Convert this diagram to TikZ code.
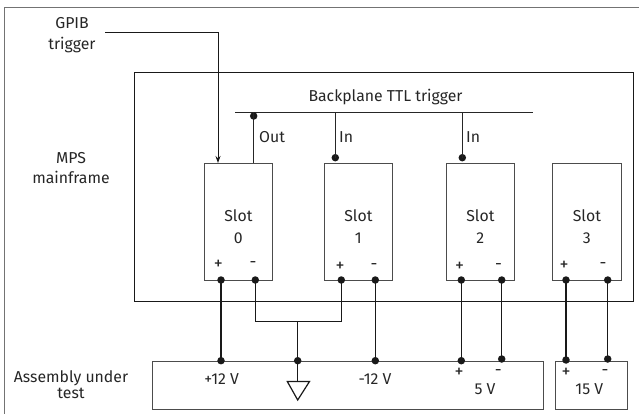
\documentclass[tikz,border=0pt]{standalone}
\usepackage{fontspec}
\setmainfont{Fira Sans}
\usetikzlibrary{arrows.meta}
\begin{document}
\begin{tikzpicture}[x=1pt,y=-1pt,
  lbl/.style={font=\fontsize{15.8}{18}\selectfont, inner sep=0pt, text=black!85},
  pm/.style={font=\fontsize{18}{18}\selectfont, inner sep=0pt, text=black!85},
  mn/.style={font=\fontsize{17}{18}\selectfont, inner sep=0pt, text=black!85},
  slotbox/.style={draw=black!70, line width=0.8pt, minimum width=68pt, minimum height=117pt, inner sep=0pt, anchor=north west},
  wire/.style={draw=black!90, line width=1.4pt},
  thin/.style={draw=black!85, line width=1pt},
  dot/.style={circle, fill=black!90, inner sep=0pt, minimum size=7.5pt},
  abox/.style={draw=black!70, line width=0.9pt, inner sep=0pt, anchor=north west}
]
\useasboundingbox (0,0) rectangle (639,414);
% outer frame (only top and left visible)
\draw[black!55, line width=0.8pt] (4.5,414) -- (4.5,7) -- (639,7);

% mainframe
\node[draw=black!90, line width=1.4pt, anchor=north west, minimum width=498.7pt, minimum height=228.7pt, inner sep=0pt] (mf) at (134,72) {};

% slots
\node[slotbox] (s0) at (204,163) {};
\node[slotbox] (s1) at (324,163) {};
\node[slotbox] (s2) at (446,163) {};
\node[slotbox, minimum width=69pt] (s3) at (552,163) {};

\foreach \s/\d in {s0/0,s1/1,s2/2,s3/3}{
  \node[lbl, align=center, font=\fontsize{15.8}{22}\selectfont] at ([yshift=-64pt]\s.north) {Slot\\\d};
}

% terminals
\coordinate (p0) at (221,280); \coordinate (m0) at (255.3,280);
\coordinate (p1) at (341.3,280); \coordinate (m1) at (375.3,280);
\coordinate (p2) at (461.3,280); \coordinate (m2) at (501.7,280);
\coordinate (p3) at (566,280); \coordinate (m3) at (607.7,280);

\node[pm] at (218.3,265) {+}; \node[mn] at (253,265) {-};
\node[pm] at (340,267) {+}; \node[mn] at (374,267) {-};
\node[pm] at (459.5,267) {+}; \node[mn] at (498.5,267) {-};
\node[pm] at (564,266) {+}; \node[mn] at (603,266) {-};

% backplane
\coordinate (bpL) at (235,112.3);
\coordinate (bpR) at (532.7,112.3);
\draw[thin] (bpL) -- (bpR);
\node[lbl] (bplbl) at (385.5,97) {Backplane TTL trigger};

\node[dot] (outdot) at (253.7,116) {};
\draw[thin] (253.7,112.3) -- (253.7,112.3 |- s0.north);
\node[lbl, anchor=west] at (259,137) {Out};

\node[dot] (in1) at (335.3,157.7) {};
\draw[thin] (in1.center) -- (in1.center |- bpL);
\node[lbl, anchor=west] at (339,137) {In};
\node[dot] (in2) at (462.3,157.7) {};
\draw[thin] (in2.center) -- (in2.center |- bpL);
\node[lbl, anchor=west] at (466,137) {In};

% GPIB
\node[lbl, align=center, font=\fontsize{15.8}{20.5}\selectfont] (gpib) at (72,35) {GPIB\\trigger};
\coordinate (gstart) at (105,32.7);
\draw[black!90, line width=0.9pt, -{Stealth[length=7pt,width=5pt]}] (gstart) -- (218,32.7) -- (218,163);

\node[lbl, align=center, font=\fontsize{15.8}{20.5}\selectfont] (mps) at (71,168) {MPS\\mainframe};

% assembly boxes
\node[abox, minimum width=391pt, minimum height=48.3pt] (aut) at (152.3,360.7) {};
\node[abox, minimum width=72.3pt, minimum height=48.3pt] (aut2) at (555,360.7) {};
\node[lbl, align=center, font=\fontsize{15.8}{16}\selectfont] (autl) at (71,384.5) {Assembly under\\test};

% bottom coordinates
\coordinate (q0) at (221,360.7);
\coordinate (g) at (297.7,360.7);
\coordinate (q1) at (375.3,360.7);
\coordinate (q2p) at (461.3,360.7);
\coordinate (q2m) at (501.7,359);
\coordinate (q3p) at (566,360);
\coordinate (q3m) at (607.7,359);
\coordinate (bus) at (297.7,321.7);

\draw[wire] (p0) -- (q0);
\draw[wire] (m0) |- (bus) -| (p1);
\draw[wire] (bus) -- (g);
\draw[wire] (m1) -- (q1);
\draw[wire] (p2) -- (q2p);
\draw[wire] (m2) -- (q2m);
\draw[wire] (p3) -- (q3p);
\draw[wire] (m3) -- (q3m);

\foreach \c in {p0,m0,p1,m1,p2,m2,p3,m3,q0,g,q1,q2p,q2m,q3p,q3m}{
  \node[dot] at (\c) {};
}

% ground symbol
\draw[black!90, line width=1.2pt] (g) -- (297.7,381.5);
\draw[black!90, line width=1.2pt, line join=miter] (287.3,381.5) -- (309.5,381.5) -- (297.7,400) -- cycle;

% voltage labels
\node[lbl] at (221.7,379.3) {+12 V};
\node[lbl] at (375,379.3) {-12 V};
\node[pm] at (459,373.3) {+};
\node[mn] at (498.3,372.3) {-};
\node[lbl] at (485,389.3) {5 V};
\node[pm] at (566,373) {+};
\node[mn] at (605,372.3) {-};
\node[lbl] at (589.3,389.3) {15 V};
\end{tikzpicture}
\end{document}
